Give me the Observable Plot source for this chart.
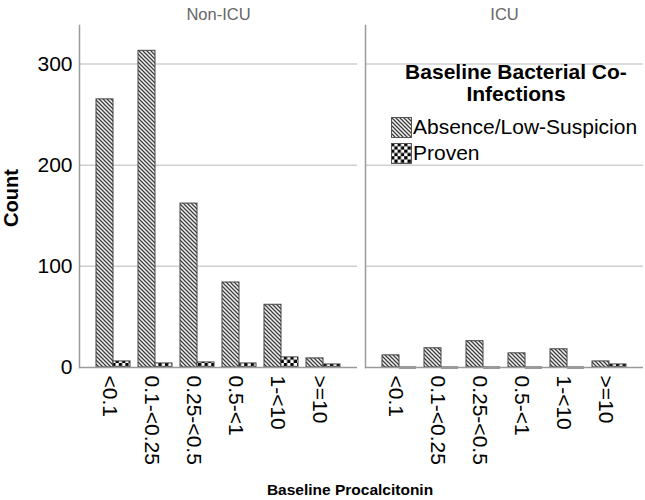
<!DOCTYPE html>
<html><head><meta charset="utf-8">
<script src="https://cdn.jsdelivr.net/npm/d3@7"></script>
<script src="https://cdn.jsdelivr.net/npm/@observablehq/plot@0.6"></script>
<style>
body{margin:0;background:#fff;font-family:"Liberation Sans",Arial,sans-serif;}
#wrap{position:relative;width:645px;height:500px;overflow:hidden;}
#wrap > svg.chart{position:absolute;left:0;top:0;}
.abs{position:absolute;white-space:nowrap;color:#000;}
.ltitle{font-weight:bold;font-size:21px;line-height:22px;text-align:center;}
.litem{font-size:21px;line-height:20px;}
.sw{position:absolute;}
</style></head><body>
<svg width="0" height="0" style="position:absolute">
  <defs>
    <pattern id="hatch" patternUnits="userSpaceOnUse" width="4" height="4">
      <rect width="4" height="4" fill="#f2f2f2"/>
      <path d="M-1,-1L5,5M-1,3L1,5M3,-1L5,1" stroke="#3c3c3c" stroke-width="1.25"/>
    </pattern>
    <pattern id="checker" patternUnits="userSpaceOnUse" width="6.6" height="6.6">
      <rect width="6.6" height="6.6" fill="#fff"/>
      <rect width="3.3" height="3.3" fill="#000"/>
      <rect x="3.3" y="3.3" width="3.3" height="3.3" fill="#000"/>
    </pattern>
  </defs>
</svg>
<div id="wrap"></div>
<script>
const panels = ["Non-ICU", "ICU"];
const categories = ["<0.1", "0.1-<0.25", "0.25-<0.5", "0.5-<1", "1-<10", ">=10"];
const absenceNonICU = [265, 313, 162, 84, 62, 9];
const provenNonICU = [6, 4, 5, 4, 10, 3];
const absenceICU = [12, 19, 26, 14, 18, 6];
const provenICU = [0, 0, 0, 0, 0, 3];
const yTicks = [0, 100, 200, 300];
const gridTicks = [100, 200, 300];
const seriesNames = ["Absence/Low-Suspicion", "Proven"];
const legendTitle = "Baseline Bacterial Co-Infections";
const xTitle = "Baseline Procalcitonin";
const yTitle = "Count";

const rows = [];
categories.forEach((c, i) => {
  rows.push({panel: panels[0], cat: c, absence: absenceNonICU[i], proven: provenNonICU[i]});
  rows.push({panel: panels[1], cat: c, absence: absenceICU[i], proven: provenICU[i]});
});

const half = 17;
const chart = Plot.plot({
  width: 645,
  height: 500,
  marginLeft: 79,
  marginRight: 2,
  marginTop: 25,
  marginBottom: 133,
  style: {fontFamily: "'Liberation Sans', Arial, sans-serif", color: "#000", background: "transparent"},
  fx: {domain: panels, paddingInner: 0.028, paddingOuter: 0, label: null},
  x: {domain: categories, paddingInner: 0.2, paddingOuter: 0.35, label: null},
  y: {domain: [0, 338], label: null},
  marks: [
    Plot.gridY(gridTicks, {stroke: "#cfcfcf", strokeOpacity: 1, strokeWidth: 1.5}),
    Plot.barY(rows, {fx: "panel", x: "cat", y: "absence", fill: "url(#hatch)", stroke: "#444", strokeWidth: 1, insetRight: half}),
    Plot.barY(rows.filter(d => d.proven > 0), {fx: "panel", x: "cat", y: "proven", fill: "url(#checker)", stroke: "#444", strokeWidth: 1, insetLeft: half}),
    Plot.tickY(rows.filter(d => d.proven === 0), {fx: "panel", x: "cat", y: "proven", stroke: "#333", strokeWidth: 2, insetLeft: half}),
    Plot.frame({anchor: "left", stroke: "#9a9a9a", strokeWidth: 1.5}),
    Plot.ruleY([0], {stroke: "#9a9a9a", strokeWidth: 1.5}),
    Plot.axisX({tickRotate: 90, tickSize: 0, tickPadding: 8, fontSize: 21, dx: -4, label: null}),
    Plot.axisY({ticks: yTicks, tickSize: 0, tickPadding: 7, fontSize: 21, label: null}),
    Plot.axisFx({anchor: "top", tickSize: 0, tickPadding: 6, fontSize: 16.5, fill: "#666", label: null})
  ]
});
chart.classList.add("chart");
const wrap = document.getElementById("wrap");
wrap.appendChild(chart);

function addDiv(cls, text, style) {
  const d = document.createElement("div");
  d.className = "abs " + cls;
  d.innerHTML = text;
  Object.assign(d.style, style);
  wrap.appendChild(d);
  return d;
}
// axis titles
addDiv("", yTitle, {left: "11px", top: "198px", transform: "translate(-50%,-50%) rotate(-90deg)", fontWeight: "bold", fontSize: "20px"});
addDiv("", xTitle, {left: "350px", top: "490px", transform: "translate(-50%,-50%)", fontWeight: "bold", fontSize: "15.5px"});
// legend
const tparts = legendTitle.split("Co-");
addDiv("ltitle", tparts[0] + "Co-<br>" + tparts[1], {left: "386px", top: "61px", width: "260px"});
const fills = ["url(#hatch)", "url(#checker)"];
seriesNames.forEach((name, i) => {
  const top = 117 + i * 26;
  const s = document.createElementNS("http://www.w3.org/2000/svg", "svg");
  s.setAttribute("width", 21); s.setAttribute("height", 21);
  s.setAttribute("class", "sw");
  s.style.left = "390.5px"; s.style.top = (top - 0.5) + "px";
  s.innerHTML = `<rect x="0.5" y="0.5" width="20" height="20" fill="${fills[i]}" stroke="#555"/>`;
  wrap.appendChild(s);
  addDiv("litem", name, {left: "413px", top: top + "px"});
});
</script>
</body></html>
